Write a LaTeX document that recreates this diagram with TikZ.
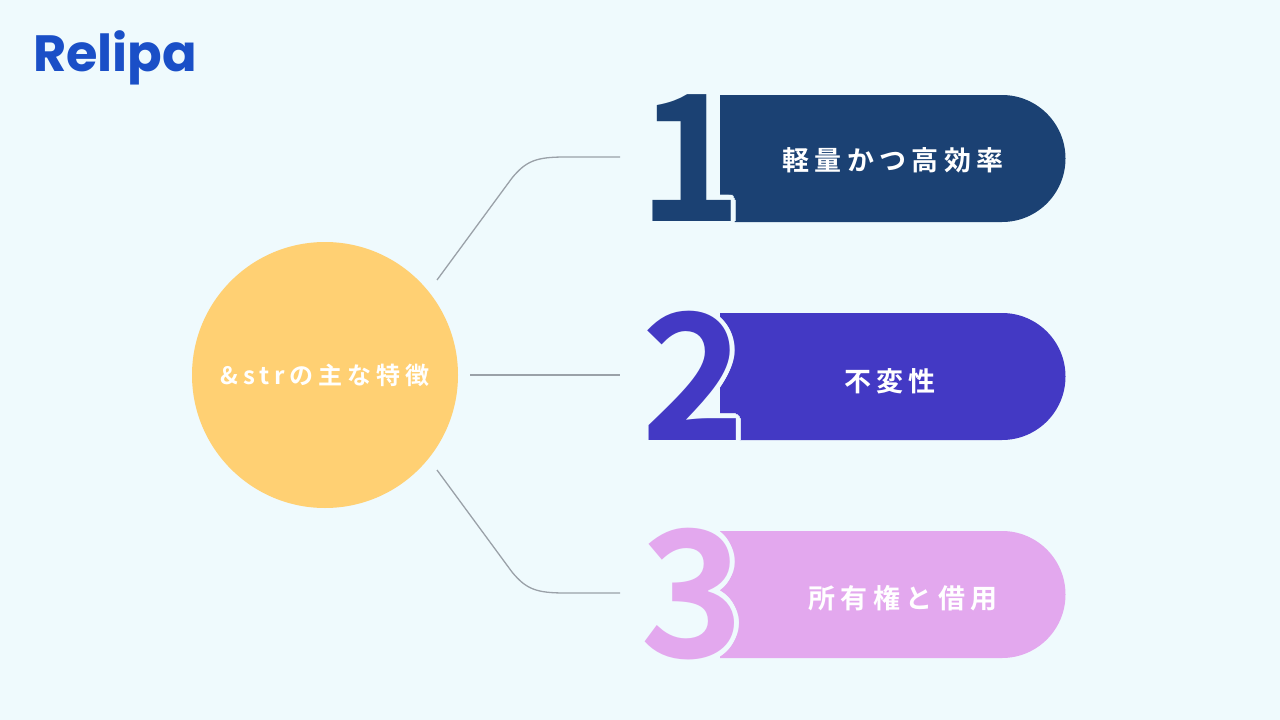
\documentclass[tikz,border=0pt]{standalone}
\usepackage{fontspec}
\setmainfont{Noto Sans CJK JP}[BoldFont={* Bold}]
\newfontfamily\spacedfont{Noto Sans CJK JP}[BoldFont={* Bold}, LetterSpace=20]
\newfontfamily\logofont{Poppins}[BoldFont={* Bold}]
\usetikzlibrary{positioning}
\definecolor{bgcol}{HTML}{EFFAFD}
\definecolor{hubcol}{HTML}{FFD073}
\definecolor{onecol}{HTML}{1B4173}
\definecolor{twocol}{HTML}{4339C4}
\definecolor{threecol}{HTML}{E3A8EE}
\definecolor{linkcol}{HTML}{9AA1A8}
\definecolor{logocol}{HTML}{1A4FC7}

\newcommand{\bignum}[4]{% x, y, digit, colour
  \foreach \dx/\dy in {0/5,0/-5,5/0,-5/0,3.6/3.6,-3.6/3.6,3.6/-3.6,-3.6/-3.6,2/4.6,-2/4.6,2/-4.6,-2/-4.6,4.6/2,-4.6/2,4.6/-2,-4.6/-2}
    \node[numtext, text=bgcol] at (#1+\dx,#2+\dy) {#3};
  \node[numtext, text=#4] (num#3) at (#1,#2) {#3};
}

\begin{document}
\begin{tikzpicture}[
    x=1pt, y=-1pt,
    hub/.style={
      circle,
      fill=hubcol,
      minimum size=266pt,
      text=white,
      font=\spacedfont\bfseries\fontsize{24}{28}\selectfont
    },
    pilltext/.style={
      text=white,
      font=\spacedfont\bfseries\fontsize{27}{30}\selectfont
    },
    numtext/.style={
      font=\bfseries\fontsize{176}{176}\selectfont,
      inner sep=0pt
    },
    links/.style={
      draw=linkcol,
      line width=1.3pt
    }
  ]
  \fill[bgcol] (0,0) rectangle (1280,720);
  \useasboundingbox (0,0) rectangle (1280,720);

  % logo
  \node[anchor=west, text=logocol, inner sep=0pt,
        font=\logofont\bfseries\fontsize{51}{51}\selectfont] (logo) at (33,58) {Relipa};

  % pills
  \fill[onecol] (720,95) -- (1002,95) arc[start angle=-90, end angle=90, radius=63.5] -- (720,222) -- cycle;
  \fill[twocol] (720,313) -- (1002,313) arc[start angle=-90, end angle=90, radius=63.5] -- (720,440) -- cycle;
  \fill[threecol] (720,531) -- (1002,531) arc[start angle=-90, end angle=90, radius=63.5] -- (720,658) -- cycle;

  \bignum{690}{158}{1}{onecol}
  \bignum{693}{376}{2}{twocol}
  \bignum{692}{594}{3}{threecol}

  \node[pilltext] (f1) at (893,160) {軽量かつ高効率};
  \node[pilltext] (f2) at (890,381) {不変性};
  \node[pilltext] (f3) at (903,598) {所有権と借用};

  % hub
  \node[hub] (hub) at (325,375) {\&strの主な特徴};

  \coordinate (e1) at (620,157);
  \coordinate (e2) at (620,375);
  \coordinate (e3) at (620,593);

  \draw[links] (437,280) -- (512,178) .. controls (526,161) and (536,157) .. (565,157) -- (e1);
  \draw[links] (470,375) -- (e2);
  \draw[links] (437,470) -- (512,572) .. controls (526,589) and (536,593) .. (565,593) -- (e3);
\end{tikzpicture}
\end{document}
